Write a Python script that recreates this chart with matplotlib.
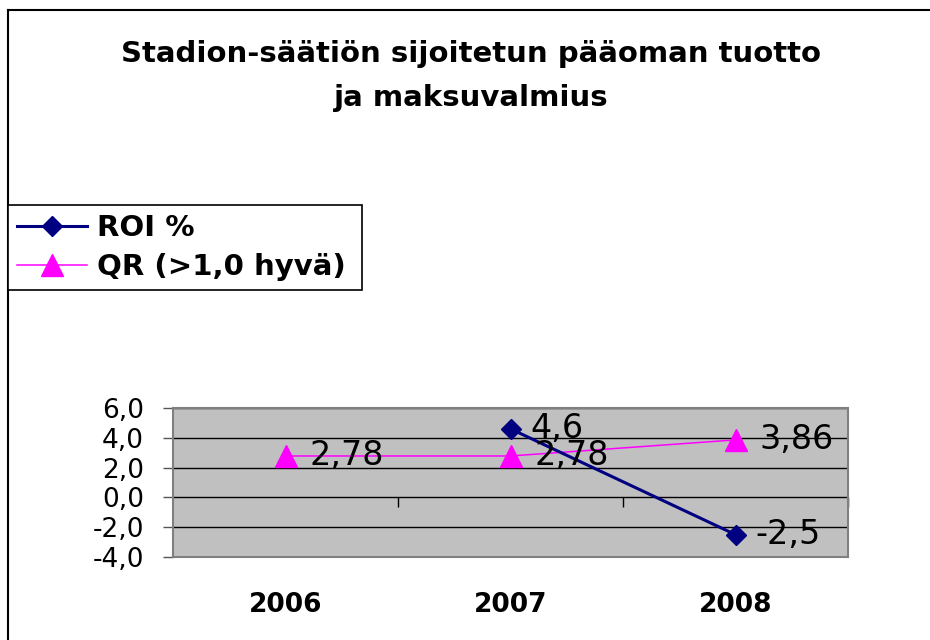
import matplotlib
matplotlib.use("Agg")
import matplotlib.pyplot as plt
from matplotlib.lines import Line2D

# data
years = ["2006", "2007", "2008"]
roi = [None, 4.6, -2.5]
qr = [2.78, 2.78, 3.86]
roi_labels = ["", "4,6", "-2,5"]
qr_labels = ["2,78", "2,78", "3,86"]
y_ticks = [-4.0, -2.0, 0.0, 2.0, 4.0, 6.0]

plt.rcParams['font.family'] = ['DejaVu Sans']
plt.rcParams['axes.unicode_minus'] = False

W, H = 930, 640
fig = plt.figure(figsize=(W / 100, H / 100), dpi=100)

# outer chart border (only top and left visible in the crop)
fig.add_artist(Line2D([8 / W, 8 / W], [0, 1 - 10 / H], color="black", lw=1.5))
fig.add_artist(Line2D([8 / W, 1], [1 - 10 / H, 1 - 10 / H], color="black", lw=1.5))

fig.text(471 / W, 1 - 76 / H, "Stadion-säätiön sijoitetun pääoman tuotto\nja maksuvalmius",
         ha="center", va="center", fontsize=21, fontweight="bold", linespacing=1.7)

ax = fig.add_axes([173 / W, 1 - 557 / H, 675 / W, 149 / H])
ax.set_facecolor("#C0C0C0")
for s in ax.spines.values():
    s.set_color("#808080")
    s.set_linewidth(1.5)

x = list(range(len(years)))
roi_x = [i for i, v in zip(x, roi) if v is not None]
roi_y = [v for v in roi if v is not None]
ax.plot(roi_x, roi_y, color="#000080", lw=2.2, marker="D", ms=10, zorder=4, label="ROI %")
ax.plot(x, qr, color="#FF00FF", lw=1.1, marker="^", ms=15.5, zorder=3, label="QR (>1,0 hyvä)")

for i, v, t in zip(x, qr, qr_labels):
    ax.annotate(t, (i, v), xytext=(17, 0), textcoords="offset points",
                ha="left", va="center", fontsize=24, zorder=5)
for i, v, t in zip(x, roi, roi_labels):
    if v is not None:
        ax.annotate(t, (i, v), xytext=(14, 0), textcoords="offset points",
                    ha="left", va="center", fontsize=24, zorder=5)

ax.set_xlim(-0.5, 2.5)
ax.set_ylim(-4, 6)
ax.set_yticks(y_ticks)
ax.set_yticklabels([f"{v:.1f}".replace(".", ",") for v in y_ticks])
ax.yaxis.grid(True, color="black", lw=1)
ax.set_axisbelow(True)
ax.tick_params(axis="y", direction="out", length=7, width=1, color="#555555",
               labelsize=19, pad=14)
ax.set_xticks(x)
ax.set_xticklabels(years, fontweight="bold", fontsize=19)
ax.tick_params(axis="x", length=0, pad=25)

# category boundary ticks sitting on the zero line
sec = ax.secondary_xaxis(0.4)
sec.set_xticks([0.5, 1.5, 2.5])
sec.set_xticklabels([])
sec.tick_params(direction="out", length=7, width=1, color="black")
sec.spines["bottom"].set_visible(False)

leg = fig.legend(loc="upper left", bbox_to_anchor=(8 / W, 1 - 292 / H, 354 / W, 87 / H),
                 mode="expand", prop={"weight": "bold", "size": 21},
                 frameon=True, fancybox=False, edgecolor="black", framealpha=1,
                 borderaxespad=0, handlelength=2.4, handletextpad=0.35, labelspacing=0.4,
                 borderpad=0.3)
leg.get_frame().set_linewidth(1.2)

fig.savefig("out.png", dpi=100)
